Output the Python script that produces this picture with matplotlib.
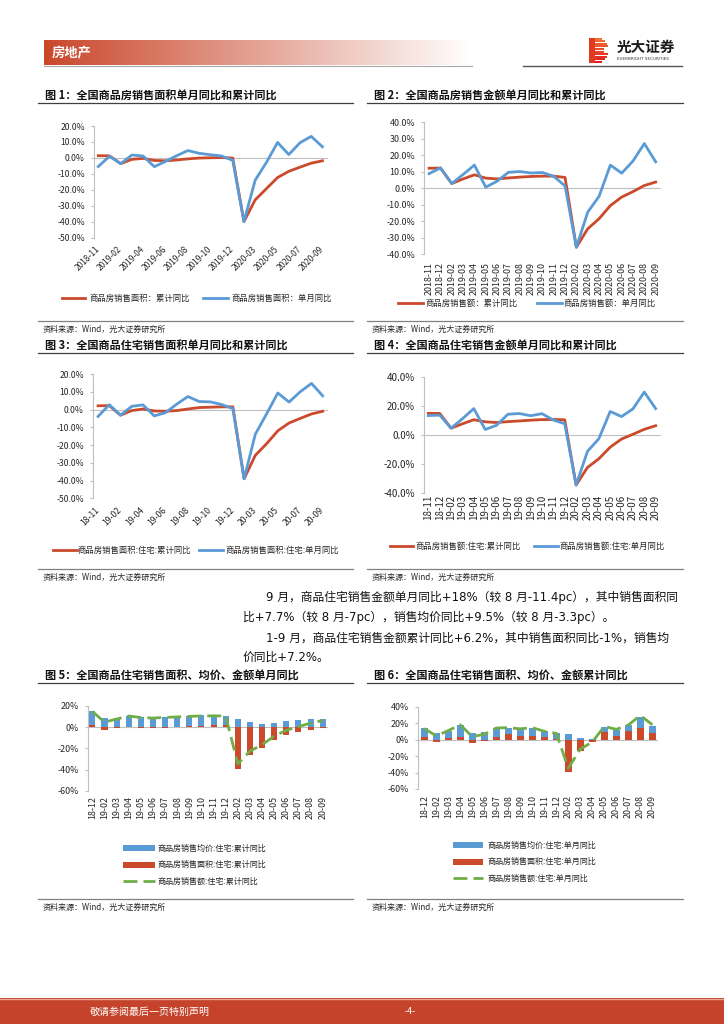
import numpy as np
import matplotlib
matplotlib.use("Agg")
import matplotlib.pyplot as plt
from matplotlib.lines import Line2D
from matplotlib.patches import Rectangle
from matplotlib.ticker import FuncFormatter
from matplotlib.transforms import Affine2D

plt.rcParams["font.family"] = ["Noto Sans CJK SC", "DejaVu Sans"]

# ---- data (percent, yoy) ----
MONTHS = [
    "2018-11", "2018-12", "2019-02", "2019-03", "2019-04", "2019-05", "2019-06",
    "2019-07", "2019-08", "2019-09", "2019-10", "2019-11", "2019-12", "2020-02",
    "2020-03", "2020-04", "2020-05", "2020-06", "2020-07", "2020-08", "2020-09",
]
SHORT_MONTHS = [m[2:] for m in MONTHS]

# fig 1: 商品房销售面积
area_cum = [1.4, 1.3, -3.6, -0.9, -0.3, -1.6, -1.8, -1.3, -0.6, -0.1, 0.1,
            0.2, -0.1, -39.9, -26.3, -19.3, -12.3, -8.4, -5.8, -3.3, -1.8]
area_mon = [-5.4, 1.0, -3.6, 1.8, 1.2, -5.5, -2.2, 1.4, 4.6, 2.9, 2.0,
            1.2, -1.5, -39.9, -14.0, -2.9, 9.7, 2.1, 9.5, 13.5, 7.0]
# fig 2: 商品房销售额
amount_cum = [12.1, 12.2, 2.8, 5.6, 8.1, 6.1, 5.6, 6.2, 6.7, 7.1, 7.3,
              7.3, 6.5, -35.9, -24.7, -18.6, -10.6, -5.4, -2.1, 1.6, 3.7]
amount_mon = [8.8, 12.3, 2.8, 8.3, 14.0, 0.6, 4.2, 9.6, 10.1, 9.2, 9.5,
              7.2, 1.3, -35.9, -14.6, -5.0, 14.0, 9.1, 16.5, 27.1, 16.0]
# fig 3: 商品房销售面积:住宅
res_area_cum = [2.1, 2.2, -3.2, -0.6, 0.3, -0.8, -1.0, -0.6, 0.3, 1.1, 1.3,
                1.5, 1.5, -39.0, -25.8, -19.3, -12.0, -7.6, -5.0, -2.5, -1.0]
res_area_mon = [-3.9, 2.7, -3.2, 1.8, 2.6, -3.6, -1.8, 3.0, 7.3, 4.5, 4.3,
                2.8, 0.5, -39.0, -13.9, -2.5, 9.3, 4.2, 10.0, 14.7, 7.7]
# fig 4: 商品房销售额:住宅
res_amount_cum = [14.7, 14.7, 4.5, 7.5, 10.3, 8.9, 8.4, 9.0, 9.5, 10.0, 10.4,
                  10.5, 10.3, -34.7, -22.6, -16.6, -8.6, -3.0, 0.3, 3.7, 6.2]
res_amount_mon = [13.2, 13.5, 4.5, 11.0, 18.0, 3.6, 6.5, 14.1, 14.6, 13.1, 14.5,
                  10.1, 7.6, -34.7, -11.5, -2.8, 16.0, 12.5, 17.8, 29.4, 18.0]
# fig 5 / fig 6: 均价 (from 2018-12)
res_price_cum = [12.5, 8.5, 8.2, 10.5, 9.8, 9.5, 9.7, 9.4, 9.5, 9.6,
                 9.3, 9.0, 7.8, 4.4, 3.2, 4.1, 5.6, 6.2, 7.2, 7.8]
res_price_mon = [11.5, 7.8, 8.5, 15.0, 8.2, 9.0, 10.5, 7.0, 9.0, 10.4,
                 7.5, 8.0, 7.3, 2.5, 0.5, 5.5, 8.0, 7.5, 13.0, 9.3]

RED = "#CB4A2B"
BLUE = "#5B9BD5"
GREEN = "#70AD47"
AXIS = "#BFBFBF"
TXT = "#262626"

W, H = 724, 1024
fig = plt.figure(figsize=(W / 100, H / 100), dpi=100)
PX = Affine2D().scale(1 / W, -1 / H).translate(0, 1) + fig.transFigure


def add_ax(x0, y0, x1, y1):
    return fig.add_axes([x0 / W, 1 - y1 / H, (x1 - x0) / W, (y1 - y0) / H])


def hline(x0, x1, y, color, lw=0.8, **kw):
    fig.add_artist(Line2D([x0, x1], [y, y], transform=PX, color=color, lw=lw, **kw))


def text(x, y, s, **kw):
    kw.setdefault("va", "center")
    fig.text(x, y, s, transform=PX, **kw)


def style_axes(ax, ylim, step, fmt, ysize, xlim):
    ax.set_xlim(*xlim)
    ax.set_ylim(*ylim)
    ax.set_yticks(np.arange(ylim[0], ylim[1] + 0.1, step))
    ax.yaxis.set_major_formatter(FuncFormatter(lambda v, p: fmt % v))
    for s in ("top", "right", "bottom"):
        ax.spines[s].set_visible(False)
    ax.spines["left"].set_color(AXIS)
    ax.spines["left"].set_linewidth(0.8)
    ax.axhline(0, color=AXIS, lw=0.8, zorder=1)
    ax.tick_params(axis="y", length=2, width=0.8, color=AXIS, labelsize=ysize,
                   labelcolor=TXT, pad=4.5)
    ax.patch.set_alpha(0)


def set_xlabels(ax, labels, every, rot, size, pad):
    idx = np.arange(len(labels))[::every]
    ax.set_xticks(idx)
    ax.set_xticklabels([labels[i] for i in idx], rotation=rot, ha="right",
                       va="center", rotation_mode="anchor", fontsize=size, color=TXT)
    ax.tick_params(axis="x", length=0, pad=pad)


def line_panel(box, cum, mon, labels, ylim, step, every, rot, xsize, ysize, xpad, xlim):
    ax = add_ax(*box)
    x = np.arange(len(labels))
    ax.plot(x, cum, color=RED, lw=2.0, zorder=3)
    ax.plot(x, mon, color=BLUE, lw=2.0, zorder=4)
    style_axes(ax, ylim, step, "%.1f%%", ysize, xlim)
    set_xlabels(ax, labels, every, rot, xsize, xpad)
    return ax


def bar_panel(box, price, area, amount, labels, ylim, width, xpad, xlim, dash):
    ax = add_ax(*box)
    x = np.arange(len(labels))
    area = np.array(area)
    price = np.array(price)
    ax.bar(x, area, width, color=RED, zorder=2)
    bottom = np.where(np.sign(area) == np.sign(price), area, 0)
    ax.bar(x, price, width, bottom=bottom, color=BLUE, zorder=2)
    ax.plot(x, amount, color=GREEN, lw=2.0, linestyle=dash, zorder=3)
    style_axes(ax, ylim, 20, "%d%%", 6.4, xlim)
    set_xlabels(ax, labels, 1, 90, 6.4, xpad)
    return ax


def line_legend(y, items, size=6):
    for x0, x1, xt, color, label in items:
        hline(x0, x1, y, color, lw=2.0)
        text(xt, y, label, fontsize=size, color=TXT)


def bar_legend(x0, x1, xt, ys, labels, dash):
    for y, color, label in zip(ys[:2], (BLUE, RED), labels[:2]):
        fig.add_artist(Rectangle((x0, y - 3), x1 - x0, 6, transform=PX,
                                 color=color, lw=0))
        text(xt, y, label, fontsize=5.8, color=TXT)
    hline(x0, x1, ys[2], GREEN, lw=2.0, linestyle=dash)
    text(xt, ys[2], labels[2], fontsize=5.8, color=TXT)


def frame(x0, x1, y_title, title, y_src):
    text(x0 + 7, y_title, title, fontsize=8, fontweight="bold", color="#111111")
    hline(x0, x1, y_title + 7, "#404040", lw=0.9)
    hline(x0, x1, y_src, "#808080", lw=0.9)
    text(x0 + 5, y_src + 8.5, "资料来源：Wind，光大证券研究所", fontsize=5.8, color=TXT)


# ---- page header ----
hdr = add_ax(44, 40, 472, 65)
hdr.axis("off")
t = np.linspace(0, 1, 400)
base = np.array([0.79, 0.28, 0.17])
img = base[None, :] * (1 - t[:, None]) + np.ones(3)[None, :] * t[:, None]
hdr.imshow(img[None, :, :], aspect="auto", extent=[0, 1, 0, 1])
text(52, 53, "房地产", fontsize=9.5, fontweight="bold", color="white")
hline(44, 472, 65.5, "#A8A8A8", lw=0.8)

# logo
stripe_w = [13, 16, 18, 19, 15, 15, 19, 18, 16, 13]
for i, w in enumerate(stripe_w):
    f = i / (len(stripe_w) - 1)
    col = (0.93 - 0.05 * f, 0.45 - 0.33 * f, 0.2 - 0.1 * f)
    fig.add_artist(Rectangle((589, 37.5 + i * 2.6), w, 2.0, transform=PX,
                             color=col, lw=0))
fig.add_artist(Rectangle((589, 37.5), 6, 25.5, transform=PX, color="#E03A22", lw=0))
text(617, 46.5, "光大证券", fontsize=10.5, fontweight="bold", color="#1a1a1a")
text(617, 59, "EVERBRIGHT SECURITIES", fontsize=3.0, color="#333333",
     family="DejaVu Sans")
hline(523, 682, 65.5, "#555555", lw=1.0)

# ---- row 1 ----
frame(38, 353, 96, "图 1：全国商品房销售面积单月同比和累计同比", 321)
frame(367, 683, 96, "图 2：全国商品房销售金额单月同比和累计同比", 321)
line_panel((94, 126, 328, 237.7), area_cum, area_mon, MONTHS, (-50, 20), 10,
           2, 45, 6.0, 6.2, 7.0, (-0.38, 20.5))
line_legend(298, [(62, 85, 89, RED, "商品房销售面积：累计同比"),
                  (203, 228, 231, BLUE, "商品房销售面积：单月同比")])
line_panel((424, 122.3, 661, 254), amount_cum, amount_mon, MONTHS, (-40, 40), 10,
           1, 90, 6.4, 6.4, 5.8, (-0.45, 20.47))
line_legend(303, [(398, 423, 425, RED, "商品房销售额：累计同比"),
                  (537, 562, 563, BLUE, "商品房销售额：单月同比")])

# ---- row 2 ----
frame(38, 353, 346, "图 3：全国商品住宅销售面积单月同比和累计同比", 569)
frame(367, 683, 346, "图 4：全国商品住宅销售金额单月同比和累计同比", 569)
line_panel((93, 374, 328, 498.3), res_area_cum, res_area_mon, SHORT_MONTHS,
           (-50, 20), 10, 2, 45, 6.2, 6.2, 7.5, (-0.45, 20.47))
line_legend(550, [(53, 77, 78, RED, "商品房销售面积:住宅:累计同比"),
                  (199, 223, 225, BLUE, "商品房销售面积:住宅:单月同比")])
line_panel((424, 376.7, 661, 492.7), res_amount_cum, res_amount_mon, SHORT_MONTHS,
           (-40, 40), 20, 1, 90, 7.0, 7.0, 1.5, (-0.38, 20.47))
line_legend(546, [(390, 413, 415, RED, "商品房销售额:住宅:累计同比"),
                  (534, 558, 560, BLUE, "商品房销售额:住宅:单月同比")])

# ---- body text ----
BODY = ["DejaVu Sans", "Noto Sans CJK SC"]
text(266, 597, "9 月，商品住宅销售金额单月同比+18%（较 8 月-11.4pc），其中销售面积同",
     fontsize=8.5, family=BODY, color="#111111")
text(243, 617, "比+7.7%（较 8 月-7pc），销售均价同比+9.5%（较 8 月-3.3pc）。",
     fontsize=8.5, family=BODY, color="#111111")
text(266, 638, "1-9 月，商品住宅销售金额累计同比+6.2%，其中销售面积同比-1%，销售均",
     fontsize=8.5, family=BODY, color="#111111")
text(243, 657, "价同比+7.2%。", fontsize=8.5, family=BODY, color="#111111")

# ---- row 3 ----
DASH = (0, (5, 2.2))
frame(38, 353, 676, "图 5：全国商品住宅销售面积、均价、金额单月同比", 899)
frame(367, 683, 676, "图 6：全国商品住宅销售面积、均价、金额累计同比", 899)
bar_panel((88, 705.7, 328, 791), res_price_cum, res_area_cum[1:], res_amount_cum[1:],
          SHORT_MONTHS[1:], (-60, 20), 0.5, 3.4, (-0.36, 19.44), DASH)
bar_legend(123, 155, 158, (848, 864.5, 881),
           ["商品房销售均价:住宅:累计同比", "商品房销售面积:住宅:累计同比",
            "商品房销售额:住宅:累计同比"], DASH)
bar_panel((418, 706.7, 658, 789), res_price_mon, res_area_mon[1:], res_amount_mon[1:],
          SHORT_MONTHS[1:], (-60, 40), 0.6, 4.3, (-0.52, 19.47), DASH)
bar_legend(453, 483, 487, (845, 861.5, 878),
           ["商品房销售均价:住宅:单月同比", "商品房销售面积:住宅:单月同比",
            "商品房销售额:住宅:单月同比"], DASH)

# ---- footer ----
fig.add_artist(Rectangle((0, 998), W, 26, transform=PX, color="#C4432A", lw=0))
hline(0, W, 998.5, "#E8A593", lw=1.0)
text(90, 1012, "敬请参阅最后一页特别声明", fontsize=7.2, color="white")
text(405, 1012, "-4-", fontsize=6.5, color="white")

fig.savefig("out.png", dpi=100)
